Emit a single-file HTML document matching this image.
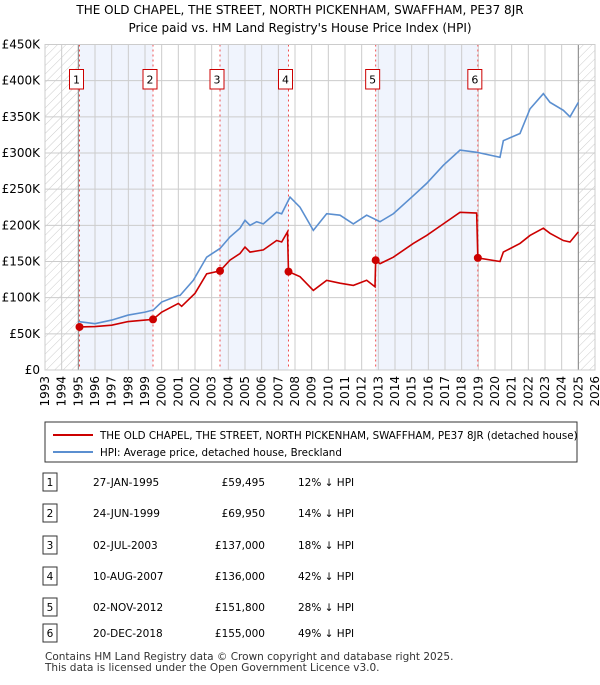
<!DOCTYPE html>
<html><head><meta charset="utf-8"><style>
body{margin:0;background:#fff;font-family:"Liberation Sans","DejaVu Sans",sans-serif;}
svg text{font-family:"DejaVu Sans","Liberation Sans",sans-serif;}
</style></head><body>
<svg width="600" height="680" viewBox="0 0 600 680" xmlns="http://www.w3.org/2000/svg">
<defs><pattern id="hatch" width="6" height="6" patternUnits="userSpaceOnUse" patternTransform="rotate(45)"><line x1="0" y1="0" x2="0" y2="6" stroke="#ccc" stroke-width="1"/></pattern></defs>
<text x="300" y="14" text-anchor="middle" font-size="12" fill="#000">THE OLD CHAPEL, THE STREET, NORTH PICKENHAM, SWAFFHAM, PE37 8JR</text>
<text x="300" y="32" text-anchor="middle" font-size="12" fill="#000">Price paid vs. HM Land Registry's House Price Index (HPI)</text>
<g id="plot"></g>
<g id="legend">
<rect x="45" y="422" width="532" height="40" fill="#fff" stroke="#333"/>
<line x1="53" y1="435" x2="93" y2="435" stroke="#cc0000" stroke-width="2"/>
<text x="100" y="439" font-size="10.3">THE OLD CHAPEL, THE STREET, NORTH PICKENHAM, SWAFFHAM, PE37 8JR (detached house)</text>
<line x1="53" y1="452" x2="93" y2="452" stroke="#5b8fd0" stroke-width="2"/>
<text x="100" y="456" font-size="10.3">HPI: Average price, detached house, Breckland</text>
</g>
<g id="table"></g>
<text x="45" y="660" font-size="10.5" fill="#333">Contains HM Land Registry data © Crown copyright and database right 2025.</text>
<text x="45" y="671" font-size="10.5" fill="#333">This data is licensed under the Open Government Licence v3.0.</text>
</svg>
<script>
const saleYears=[1995.07,1999.48,2003.5,2007.61,2012.84,2018.97];
const salePrices=[59495,69950,137000,136000,151800,155000];
const saleDates=["27-JAN-1995","24-JUN-1999","02-JUL-2003","10-AUG-2007","02-NOV-2012","20-DEC-2018"];
const saleDiff=["12% ↓ HPI","14% ↓ HPI","18% ↓ HPI","42% ↓ HPI","28% ↓ HPI","49% ↓ HPI"];
const hpiYears=[1995,1996,1997,1998,1999,1999.5,2000,2001,2001.1,2001.9,2002.7,2003.5,2004.1,2004.7,2005,2005.3,2005.7,2006.1,2006.9,2007.2,2007.7,2008.3,2009.1,2009.9,2010.7,2011.5,2012.3,2013.1,2013.9,2015.1,2015.9,2016.9,2017.9,2018.9,2020.3,2020.5,2021.5,2022.1,2022.9,2023.3,2024.1,2024.5,2025];
const hpiValues=[67,64,69,76,80,83,94,103,103,124,156,168,184,196,207,200,205,202,218,216,239,225,193,216,214,202,214,205,216,241,258,283,304,301,294,317,327,361,382,370,359,350,370];
const ppYears=[1995.07,1996,1997,1998,1999,1999.48,2000,2001,2001.2,2002,2002.7,2003.5,2004.1,2004.7,2005,2005.3,2006.1,2006.9,2007.2,2007.55,2007.61,2008.3,2009.1,2009.9,2010.7,2011.5,2012.3,2012.8,2012.84,2013.1,2013.9,2015.1,2015.9,2016.9,2017.9,2018.9,2018.97,2020.3,2020.5,2021.5,2022.1,2022.9,2023.3,2024.1,2024.5,2025];
const ppValues=[59.5,60,62,67,69,70,80,92,88,106,133,137,152,161,170,163,166,179,177,191,136,129,110,124,120,117,124,115,151.8,147,156,175,186,202,218,217,155,150,163,175,186,196,189,179,177,191];
const yTicks=[0,50,100,150,200,250,300,350,400,450];
const yTickLabels=["£0","£50K","£100K","£150K","£200K","£250K","£300K","£350K","£400K","£450K"];
const xTicks=[];for(let y=1993;y<=2026;y++)xTicks.push(y);

const NS="http://www.w3.org/2000/svg";
const X0=45,X1=595,Y0=370,Y1=44.5;
const xs=y=>X0+(y-1993)/(2026-1993)*(X1-X0);
const ys=v=>Y0-v/450*(Y0-Y1);
const plot=document.getElementById('plot');
function mk(tag,attrs,parent){const e=document.createElementNS(NS,tag);for(const k in attrs)e.setAttribute(k,attrs[k]);(parent||plot).appendChild(e);return e;}
let bg=mk('rect',{x:X0,y:Y1,width:X1-X0,height:Y0-Y1,fill:'#fff'});


for(let i=0;i<6;i+=2){const s=mk('rect',{x:xs(saleYears[i]),y:Y1,width:xs(saleYears[i+1])-xs(saleYears[i]),height:Y0-Y1,fill:'#f0f4fd'});

}
let h1=mk('rect',{x:X0,y:Y1,width:xs(1995)-X0,height:Y0-Y1,fill:'url(#hatch)'});


let h2=mk('rect',{x:xs(2025),y:Y1,width:X1-xs(2025),height:Y0-Y1,fill:'url(#hatch)'});


xTicks.forEach((t,i)=>{mk('line',{x1:xs(t),x2:xs(t),y1:Y1,y2:Y0,stroke:'#ccc','stroke-width':1});
const tx=mk('text',{x:0,y:0,'font-size':12,'text-anchor':'end',transform:`translate(${xs(t)+4},${Y0+6}) rotate(-90)`});
tx.textContent=t;

});
yTicks.forEach((t,i)=>{mk('line',{x1:X0,x2:X1,y1:ys(t),y2:ys(t),stroke:'#ccc','stroke-width':1});
const tx=mk('text',{x:40,y:ys(t)+4,'font-size':12,'text-anchor':'end'});tx.textContent=yTickLabels[i];

});
mk('line',{x1:xs(1995),x2:xs(1995),y1:Y1,y2:Y0,stroke:'#888'});
mk('line',{x1:xs(2025),x2:xs(2025),y1:Y1,y2:Y0,stroke:'#888'});
saleYears.forEach((s,i)=>{mk('line',{x1:xs(s),x2:xs(s),y1:Y1,y2:Y0,stroke:'#f05050','stroke-dasharray':'2,3','stroke-width':1});});
const hp=mk('polyline',{points:hpiYears.map((y,i)=>xs(y)+','+ys(hpiValues[i])).join(' '),fill:'none',stroke:'#5b8fd0','stroke-width':1.6});


const pl=mk('polyline',{points:ppYears.map((y,i)=>xs(y)+','+ys(ppValues[i])).join(' '),fill:'none',stroke:'#cc0000','stroke-width':1.6});


saleYears.forEach((s,i)=>{const c=mk('circle',{cx:xs(s),cy:ys(salePrices[i]/1000),r:4,fill:'#cc0000'});


const cx=xs(s)-3;const r=mk('rect',{x:cx-7,y:69.5,width:14,height:19.5,fill:'#fff',stroke:'#cc0000'});


const t=mk('text',{x:cx,y:83.5,'font-size':11,'text-anchor':'middle'});t.textContent=i+1;

});
mk('rect',{x:X0,y:Y1,width:X1-X0,height:Y0-Y1,fill:'none',stroke:'#ccc'});
const tb=document.getElementById('table');
const rowY=[482,513,545,576,607,633];
saleYears.forEach((s,i)=>{const y=rowY[i];
const r=mk('rect',{x:43,y:y-9,width:14,height:18,fill:'#fff',stroke:'#333'},tb);


const n=mk('text',{x:50,y:y+4,'font-size':10.5,'text-anchor':'middle'},tb);n.textContent=i+1;
const d=mk('text',{x:93,y:y+4,'font-size':10.5},tb);d.textContent=saleDates[i];


const p=mk('text',{x:265,y:y+4,'font-size':10.5,'text-anchor':'end'},tb);p.textContent='£'+salePrices[i].toLocaleString('en-GB');


const h=mk('text',{x:298,y:y+4,'font-size':10.5},tb);h.textContent=saleDiff[i];

});
</script>
</body></html>
